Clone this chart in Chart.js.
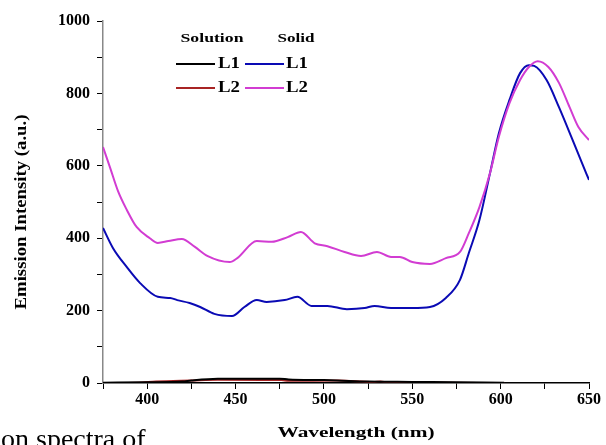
<!DOCTYPE html>
<html>
<head>
<meta charset="utf-8">
<script src="https://cdn.jsdelivr.net/npm/chart.js@4/dist/chart.umd.min.js"></script>
<style>
  html, body { margin: 0; padding: 0; background: #fff; }
  #wrap { position: relative; width: 606px; height: 445px; }
</style>
</head>
<body>
<div id="wrap"><canvas id="myChart" width="606" height="445"></canvas></div>
<script>
"use strict";

// Data
const solidL1Wl = [375, 380.6, 388.5, 396, 406, 413, 417, 424, 430, 438, 448, 455, 462, 467.6, 477.8, 485, 493, 502, 513, 523, 528.7, 538, 550, 560, 569, 577, 582, 588, 594, 599, 605, 611, 616, 619, 626, 633, 640, 646, 650];
const solidL1 = [428, 373, 320, 276, 238, 235, 229, 221, 210, 191, 185, 210, 229, 224, 229, 238, 213, 213, 204, 207, 213, 207, 207, 210, 235, 285, 359, 450, 580, 690, 782, 856, 878, 876, 837, 762, 680, 608, 561];

const solidL2Wl = [375, 379, 383.5, 388.5, 394, 401.5, 406, 412, 419.6, 427, 434, 446.7, 451, 462, 470.5, 479.5, 487, 494.8, 502, 511.7, 521, 530, 538, 543, 550, 560, 569, 577, 582, 588, 594, 599, 605, 611, 616, 621, 627, 633, 639, 644, 650];
const solidL2 = [652, 595, 530, 478, 431, 400, 387, 392, 398, 376, 351, 334, 345, 392, 390, 403, 417, 386, 378, 362, 351, 362, 348, 348, 334, 329, 345, 362, 414, 486, 580, 680, 773, 837, 873, 889, 873, 829, 762, 707, 671];

const solutionL1Wl = [375, 400, 420, 425, 440, 475, 480, 500, 507, 525, 550, 575, 602];
const solutionL1 = [1, 2, 4, 7, 12, 12, 10, 8, 7, 4, 3, 2, 1];

const solutionL2Wl = [375, 395, 405, 425, 440, 476, 480, 508, 528, 532, 536, 560, 602];
const solutionL2 = [0, 1, 4, 7, 9, 8, 6, 7, 3, 4, 2, 1, 0];

const xTitle = "Wavelength (nm)";
const yTitle = "Emission Intensity (a.u.)";
const caption = "on spectra of";

const colors = {
    solutionL1: "#000000",
    solutionL2: "#a82424",
    solidL1: "#0a0ab4",
    solidL2: "#d23cd2",
};

function pts(xs, ys) {
    return xs.map((x, i) => ({ x: x, y: ys[i] }));
}

const serif = "'Liberation Serif', 'Times New Roman', serif";

// draw text centred at x,y and stretched sideways to a given width
function fitText(ctx, text, x, y, width, font) {
    ctx.save();
    ctx.font = font;
    const w = ctx.measureText(text).width;
    ctx.translate(x, y);
    ctx.scale(width / w, 1);
    ctx.textAlign = "center";
    ctx.fillText(text, 0, 0);
    ctx.restore();
}

const extras = {
    id: "extras",
    afterDraw(chart) {
        const ctx = chart.ctx;
        ctx.save();
        ctx.fillStyle = "#000";
        ctx.textBaseline = "middle";

        // axis titles
        fitText(ctx, xTitle, 356, 433, 157, "bold 14px " + serif);
        ctx.save();
        ctx.translate(22, 212);
        ctx.rotate(-Math.PI / 2);
        fitText(ctx, yTitle, 0, 0, 195, "bold 16px " + serif);
        ctx.restore();

        // legend
        fitText(ctx, "Solution", 212, 39, 63, "bold 13px " + serif);
        fitText(ctx, "Solid", 296, 39, 37, "bold 13px " + serif);
        const rows = [
            { y: 64, a: colors.solutionL1, b: colors.solidL1, t: "L1" },
            { y: 88, a: colors.solutionL2, b: colors.solidL2, t: "L2" },
        ];
        rows.forEach(r => {
            ctx.lineWidth = 2;
            ctx.strokeStyle = r.a;
            ctx.beginPath(); ctx.moveTo(176, r.y); ctx.lineTo(215, r.y); ctx.stroke();
            ctx.strokeStyle = r.b;
            ctx.beginPath(); ctx.moveTo(245, r.y); ctx.lineTo(284, r.y); ctx.stroke();
            fitText(ctx, r.t, 229, r.y, 22, "bold 16px " + serif);
            fitText(ctx, r.t, 297, r.y, 22, "bold 16px " + serif);
        });

        // caption fragment below the chart
        ctx.font = "28px " + serif;
        ctx.textAlign = "left";
        ctx.textBaseline = "alphabetic";
        ctx.fillText(caption, 1, 448);
        ctx.restore();
    },
};

function line(label, data, color) {
    return {
        label: label,
        data: data,
        borderColor: color,
        backgroundColor: color,
        borderWidth: 2,
        pointRadius: 0,
        cubicInterpolationMode: "monotone",
    };
}

const data = {
    datasets: [
        line("Solution L1", pts(solutionL1Wl, solutionL1), colors.solutionL1),
        line("Solution L2", pts(solutionL2Wl, solutionL2), colors.solutionL2),
        line("Solid L2", pts(solidL2Wl, solidL2), colors.solidL2),
        line("Solid L1", pts(solidL1Wl, solidL1), colors.solidL1),
    ],
};

const tickFont = { family: serif, size: 16, weight: "bold" };

const config = {
    type: "line",
    data: data,
    options: {
        responsive: false,
        animation: false,
        layout: { padding: { left: 0, top: 21, right: 17, bottom: 0 } },
        plugins: {
            legend: { display: false },
            tooltip: { enabled: false },
        },
        scales: {
            x: {
                type: "linear",
                min: 375,
                max: 650,
                ticks: {
                    stepSize: 25,
                    autoSkip: false,
                    maxRotation: 0,
                    color: "#000",
                    font: tickFont,
                    padding: 1,
                    callback: v => (v % 50 === 0 ? String(v) : ""),
                },
                grid: { drawOnChartArea: false, tickLength: 6, color: "#000" },
                border: { color: "#000", width: 1.5 },
                afterFit: s => { s.height = 62; },
            },
            y: {
                min: 0,
                max: 1000,
                ticks: {
                    stepSize: 100,
                    autoSkip: false,
                    color: "#000",
                    font: tickFont,
                    padding: 7,
                    callback: v => (v % 200 === 0 ? String(v) : ""),
                },
                grid: { drawOnChartArea: false, tickLength: 6, color: "#000" },
                border: { color: "#888", width: 1.5 },
                afterFit: s => { s.width = 103; },
            },
        },
    },
    plugins: [extras],
};

const myChart = new Chart(document.getElementById("myChart"), config);
</script>
</body>
</html>
